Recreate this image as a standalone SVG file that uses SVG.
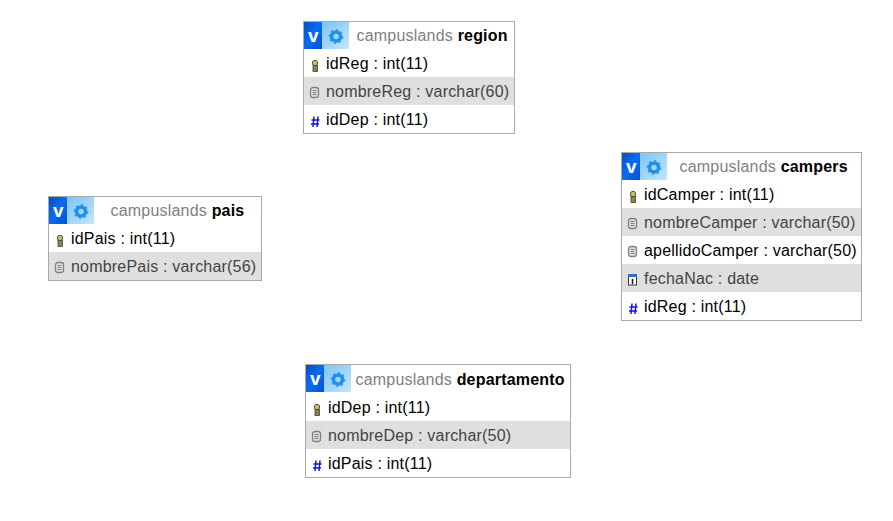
<svg xmlns="http://www.w3.org/2000/svg" width="893" height="521" viewBox="0 0 893 521">
<style>
text{font-family:"Liberation Sans",Arial,sans-serif;font-size:16px;fill:#000;letter-spacing:.2px}
.frame{fill:#fff;stroke:#a9a9a9;stroke-width:1}
.alt{fill:#dfdfdf}
.alt-t{fill:#444}
.db{fill:#808080}
.tb{font-weight:bold;fill:#000}
.v{font-weight:bold;font-size:19px;fill:#fff}
</style>
<defs>
<linearGradient id="gv" x1="0" y1="0" x2="1" y2="1"><stop offset="0" stop-color="#0a4fc0"/><stop offset="0.5" stop-color="#0a6cf0"/><stop offset="1" stop-color="#0052d0"/></linearGradient>
<linearGradient id="gc" x1="0" y1="0" x2="1" y2="1"><stop offset="0" stop-color="#7cc4f5"/><stop offset="1" stop-color="#c4e6fc"/></linearGradient>
<g id="head">
<rect width="18" height="27" fill="url(#gv)"/>
<rect x="18" width="27" height="27" fill="url(#gc)"/>
<text x="9.500" y="20" text-anchor="middle" class="v">v</text>
<circle cx="32" cy="14.500" r="4.500" fill="none" stroke="#1e90e8" stroke-width="3.500"/>
<circle cx="32" cy="14.500" r="6.800" fill="none" stroke="#1e90e8" stroke-width="1.200" stroke-dasharray="2.200 3.100"/>
</g>
<g id="key">
<circle cx="4" cy="5" r="2.700" fill="#c8c070" stroke="#55553a"/>
<rect x="2" y="7.500" width="4.500" height="6" fill="#8a8450" stroke="#44442c" stroke-width="0.800"/>
</g>
<g id="txt">
<rect x="0.500" y="1.500" width="8" height="10" rx="2.500" fill="#e0e0e0" stroke="#808080" stroke-width="1.300"/>
<path d="M2.500 4.500h4M2.500 6.500h4M2.500 8.500h4" stroke="#808080" fill="none"/>
</g>
<g id="num">
<path d="M3 2.500L2 13M7 2.500L6 13M0.500 6h8M0 10h8" stroke="#1414e0" stroke-width="1.500" fill="none"/>
</g>
<g id="date">
<rect x="0.500" y="1.500" width="8" height="10.500" fill="#fff" stroke="#333"/>
<rect x="0" y="1" width="9" height="3" fill="#2a6fc9"/>
<path d="M4.500 6v5" stroke="#111" stroke-width="1.500"/>
</g>
</defs>
<g id="connectors"></g>
<g id="table-region">
<rect class="frame" x="303.500" y="21.500" width="211" height="112"/>
<use href="#head" x="304" y="22"/>
<text x="356.500" y="41"><tspan class="db">campuslands </tspan><tspan class="tb">region</tspan></text>
<rect class="alt" x="304" y="77" width="210" height="28"/>
<use href="#key" x="311" y="58"/><text x="326" y="69">idReg : int(11)</text>
<use href="#txt" x="310" y="86"/><text class="alt-t" x="326" y="97">nombreReg : varchar(60)</text>
<use href="#num" x="311" y="114"/><text x="326" y="125">idDep : int(11)</text>
</g>
<g id="table-campers">
<rect class="frame" x="621.500" y="152.500" width="240" height="168"/>
<use href="#head" x="622" y="153"/>
<text x="679.500" y="172"><tspan class="db">campuslands </tspan><tspan class="tb">campers</tspan></text>
<rect class="alt" x="622" y="208" width="239" height="28"/>
<rect class="alt" x="622" y="264" width="239" height="28"/>
<use href="#key" x="629" y="189"/><text x="644" y="200">idCamper : int(11)</text>
<use href="#txt" x="628" y="217"/><text class="alt-t" x="644" y="228">nombreCamper : varchar(50)</text>
<use href="#txt" x="628" y="245"/><text x="644" y="256">apellidoCamper : varchar(50)</text>
<use href="#date" x="628" y="273"/><text class="alt-t" x="644" y="284">fechaNac : date</text>
<use href="#num" x="629" y="301"/><text x="644" y="312">idReg : int(11)</text>
</g>
<g id="table-pais">
<rect class="frame" x="48.500" y="196.500" width="213" height="84"/>
<use href="#head" x="49" y="197"/>
<text x="110.500" y="216"><tspan class="db">campuslands </tspan><tspan class="tb">pais</tspan></text>
<rect class="alt" x="49" y="252" width="212" height="28"/>
<use href="#key" x="56" y="233"/><text x="71" y="244">idPais : int(11)</text>
<use href="#txt" x="55" y="261"/><text class="alt-t" x="71" y="272">nombrePais : varchar(56)</text>
</g>
<g id="table-departamento">
<rect class="frame" x="305.500" y="364.500" width="265" height="113"/>
<use href="#head" x="306" y="365"/>
<text x="355.500" y="385"><tspan class="db">campuslands </tspan><tspan class="tb">departamento</tspan></text>
<rect class="alt" x="306" y="421" width="264" height="28"/>
<use href="#key" x="313" y="402"/><text x="328" y="413">idDep : int(11)</text>
<use href="#txt" x="312" y="430"/><text class="alt-t" x="328" y="441">nombreDep : varchar(50)</text>
<use href="#num" x="313" y="458"/><text x="328" y="469">idPais : int(11)</text>
</g>
</svg>
